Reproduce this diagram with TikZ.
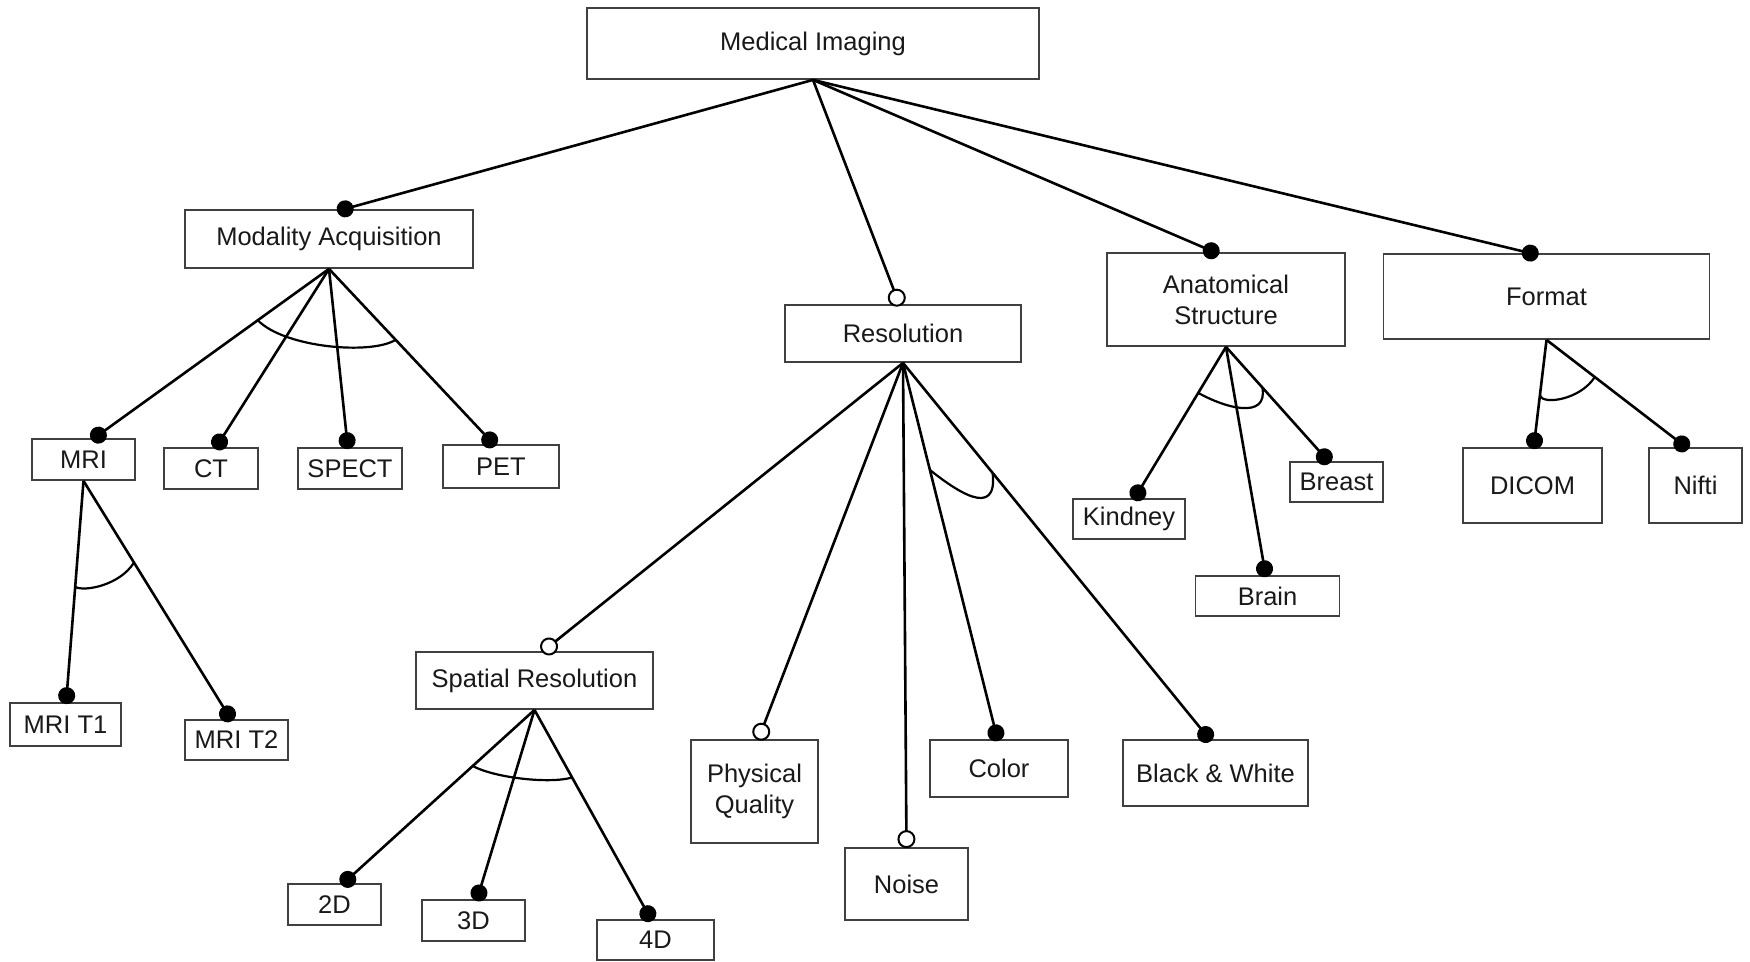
\documentclass[tikz,border=0pt]{standalone}
\usepackage{fontspec}
\setmainfont{Liberation Sans}
\usetikzlibrary{arrows.meta,calc}
\newcommand\featfont{\fontsize{25.5}{31}\selectfont}
\tikzset{
  feature/.style={draw=black!75, line width=1.8pt, fill=white, inner sep=0pt,
    align=center, font=\featfont, text=black!90},
  link/.style={line width=2.6pt, black},
  mandatory/.style={link, -{Circle[length=17pt]}},
  optional/.style={link, -{Circle[open, length=18pt, fill=white, line width=2pt]}},
  group/.style={line width=2.2pt, black},
}
\begin{document}
\begin{tikzpicture}[x=1pt, y=-1pt]
\useasboundingbox (0,0) rectangle (1750,961);

% feature boxes
\node[feature, minimum width=452pt, minimum height=71pt] (root) at (813,43.5) {Medical Imaging};
\node[feature, minimum width=288pt, minimum height=58pt] (mod) at (329,239) {Modality Acquisition};
\node[feature, minimum width=103pt, minimum height=41pt] (mri) at (83.5,459.5) {MRI};
\node[feature, minimum width=94pt, minimum height=41pt] (ct) at (211,468.5) {CT};
\node[feature, minimum width=104pt, minimum height=41pt] (spect) at (350,468.5) {SPECT};
\node[feature, minimum width=116pt, minimum height=43pt] (pet) at (501,466.5) {PET};
\node[feature, minimum width=111pt, minimum height=43pt] (t1) at (65.5,724.5) {MRI T1};
\node[feature, minimum width=103pt, minimum height=40pt] (t2) at (236.5,740) {MRI T2};
\node[feature, minimum width=236pt, minimum height=57pt] (res) at (903,333.5) {Resolution};
\node[feature, minimum width=237pt, minimum height=57pt] (sp) at (534.5,680.5) {Spatial Resolution};
\node[feature, minimum width=93pt, minimum height=41pt] (d2) at (334.5,904.5) {2D};
\node[feature, minimum width=103pt, minimum height=41pt] (d3) at (473.5,920.5) {3D};
\node[feature, minimum width=117pt, minimum height=40pt] (d4) at (655.5,940) {4D};
\node[feature, minimum width=127pt, minimum height=103pt] (phys) at (754.5,791.5) {Physical\\Quality};
\node[feature, minimum width=123pt, minimum height=72pt] (noise) at (906.5,884) {Noise};
\node[feature, minimum width=138pt, minimum height=57pt] (color) at (999,768.5) {Color};
\node[feature, minimum width=185pt, minimum height=66pt] (bw) at (1215.5,773) {Black \& White};
\node[feature, minimum width=238pt, minimum height=93pt] (anat) at (1226,299.5) {Anatomical\\Structure};
\node[feature, minimum width=326pt, minimum height=85pt] (format) at (1546.5,296.5) {Format};
\node[feature, minimum width=112pt, minimum height=40pt] (kid) at (1129,519) {Kindney};
\node[feature, minimum width=93pt, minimum height=40pt] (breast) at (1336.5,482) {Breast};
\node[feature, minimum width=144pt, minimum height=40pt] (brain) at (1267.5,596) {Brain};
\node[feature, minimum width=139pt, minimum height=75pt] (dicom) at (1532.5,485.5) {DICOM};
\node[feature, minimum width=93pt, minimum height=75pt] (nifti) at (1695.5,485.5) {Nifti};

% end points of the connectors on the child boxes
\coordinate (e-mod) at ([xshift=8pt,yshift=-2pt]mod.north);
\coordinate (e-res) at ([xshift=-3pt,yshift=-2pt]res.north);
\coordinate (e-anat) at ([xshift=-7pt,yshift=-2pt]anat.north);
\coordinate (e-format) at ([xshift=-8pt,yshift=-2pt]format.north);
\coordinate (e-mri) at ([xshift=8pt,yshift=-2pt]mri.north);
\coordinate (e-ct) at ([xshift=4pt,yshift=-2pt]ct.north);
\coordinate (e-spect) at ([xshift=-2pt,yshift=-2pt]spect.north);
\coordinate (e-pet) at ([xshift=-5.5pt,yshift=-2pt]pet.north);
\coordinate (e-t1) at ([xshift=0.5pt,yshift=-2pt]t1.north);
\coordinate (e-t2) at ([xshift=-4.5pt,yshift=-2pt]t2.north);
\coordinate (e-sp) at ([xshift=7.5pt,yshift=-1pt]sp.north);
\coordinate (e-phys) at ([xshift=3.5pt,yshift=-1pt]phys.north);
\coordinate (e-noise) at ([yshift=-1pt]noise.north);
\coordinate (e-color) at ([xshift=-1pt,yshift=-2pt]color.north);
\coordinate (e-bw) at ([xshift=-4.5pt,yshift=-2pt]bw.north);
\coordinate (e-d2) at ([xshift=7pt,yshift=-2pt]d2.north);
\coordinate (e-d3) at ([xshift=3pt,yshift=-2pt]d3.north);
\coordinate (e-d4) at ([xshift=-3.5pt,yshift=-2pt]d4.north);
\coordinate (e-kid) at ([xshift=4.5pt,yshift=-2pt]kid.north);
\coordinate (e-brain) at ([xshift=-1.5pt,yshift=-2pt]brain.north);
\coordinate (e-breast) at ([xshift=-6.5pt,yshift=-2pt]breast.north);
\coordinate (e-dicom) at ([xshift=1pt,yshift=-2pt]dicom.north);
\coordinate (e-nifti) at ([xshift=-7pt,yshift=-2pt]nifti.north);

% root
\draw[mandatory] (root.south) -- (e-mod);
\draw[optional] (root.south) -- (e-res);
\draw[mandatory] (root.south) -- (e-anat);
\draw[mandatory] (root.south) -- (e-format);

% modality acquisition
\draw[mandatory] (mod.south) -- (e-mri);
\draw[mandatory] (mod.south) -- (e-ct);
\draw[mandatory] (mod.south) -- (e-spect);
\draw[mandatory] (mod.south) -- (e-pet);
\draw[group] ($(mod.south)!0.30!(e-mri)$) .. controls (285,348) and (372,355) .. ($(mod.south)!0.40!(e-pet)$);

% MRI
\draw[mandatory] (mri.south) -- (e-t1);
\draw[mandatory] (mri.south) -- (e-t2);
\draw[group] ($(mri.south)!0.475!(e-t1)$) .. controls (85,592) and (120,585) .. ($(mri.south)!0.34!(e-t2)$);

% resolution
\draw[optional] (res.south) -- (e-sp);
\draw[optional] (res.south) -- (e-phys);
\draw[optional] (res.south) -- (e-noise);
\draw[mandatory] (res.south) -- (e-color);
\draw[mandatory] (res.south) -- (e-bw);
\draw[group] ($(res.south)!0.283!(e-color)$) .. controls (955,490) and (998,520) .. ($(res.south)!0.291!(e-bw)$);

% spatial resolution
\draw[mandatory] (sp.south) -- (e-d2);
\draw[mandatory] (sp.south) -- (e-d3);
\draw[mandatory] (sp.south) -- (e-d4);
\draw[group] ($(sp.south)!0.32!(e-d2)$) .. controls (495,778) and (550,784) .. ($(sp.south)!0.32!(e-d4)$);

% anatomical structure
\draw[mandatory] (anat.south) -- (e-kid);
\draw[mandatory] (anat.south) -- (e-brain);
\draw[mandatory] (anat.south) -- (e-breast);
\draw[group] ($(anat.south)!0.30!(e-kid)$) .. controls (1225,408) and (1268,420) .. ($(anat.south)!0.35!(e-breast)$);

% format
\draw[mandatory] (format.south) -- (e-dicom);
\draw[mandatory] (format.south) -- (e-nifti);
\draw[group] ($(format.south)!0.51!(e-dicom)$) .. controls (1543,405) and (1580,400) .. ($(format.south)!0.34!(e-nifti)$);
\end{tikzpicture}
\end{document}
